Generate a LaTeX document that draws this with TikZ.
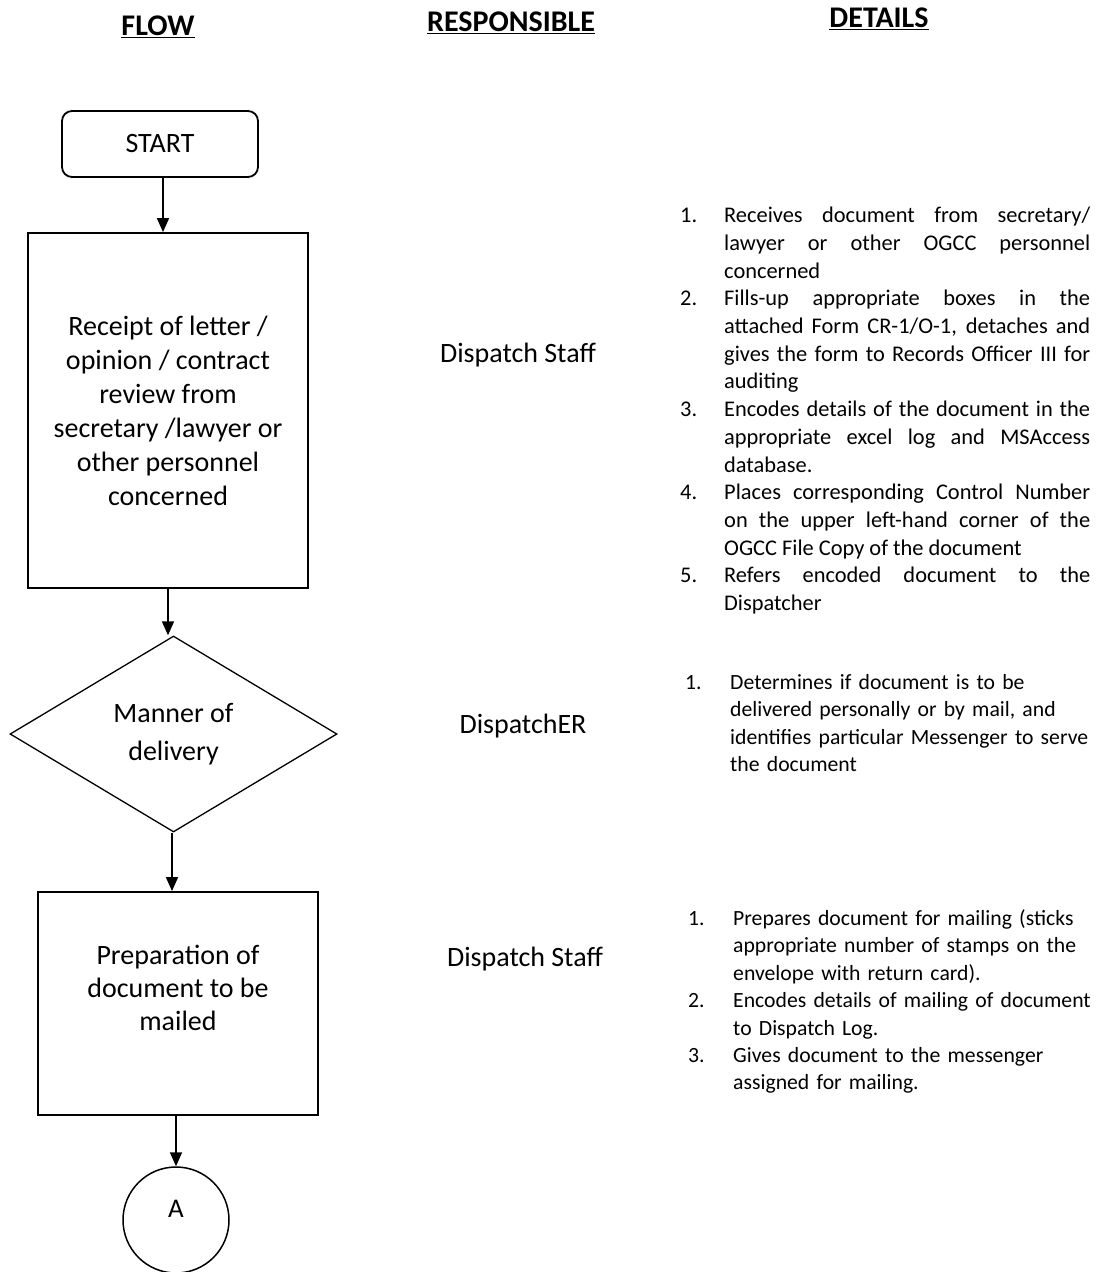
\documentclass[tikz,border=0pt]{standalone}
\usepackage{fontspec}
\setmainfont{Carlito}
\usetikzlibrary{shapes.geometric,arrows.meta}
\newcommand\ditem[3]{\par\spaceskip=0.226em plus 0.3em minus 0.12em\relax\noindent\hangindent=#1\hangafter=1\makebox[#1][l]{#2}#3\par}
\newcommand\ritem[3]{\par\rightskip=0pt plus 1fil\relax\noindent\hangindent=#1\hangafter=1\makebox[#1][l]{#2}#3\par}
\begin{document}
\begin{tikzpicture}[x=1pt,y=-1pt,
  box/.style={draw,line width=1.8pt,inner sep=0pt,align=center,font=\fontsize{28}{34}\selectfont},
  arr/.style={line width=1.6pt,-{Triangle[length=14pt,width=12pt]}},
  hdr/.style={font=\fontsize{30}{34}\selectfont\bfseries},
  resp/.style={font=\fontsize{28}{32}\selectfont},
  det/.style={anchor=base west,inner sep=0pt,font=\fontsize{22.4}{27.7}\selectfont},
  rdet/.style={anchor=base west,inner sep=0pt,font=\fontsize{21.7}{27.4}\selectfont}
]
\useasboundingbox[fill=white] (0,0) rectangle (1106,1272);

% headers
\node[hdr] (hflow) at (158,27) {\underline{FLOW}};
\node[hdr] (hresp) at (511,23) {\underline{RESPONSIBLE}};
\node[hdr] (hdet) at (879,19) {\underline{DETAILS}};

% flow
\node[box,rounded corners=10pt,minimum width=196pt,minimum height=66pt] (start) at (160,144) {START};
\node[box,minimum width=280pt,minimum height=355pt] (box1) at (168,410.5)
  {Receipt of letter /\\opinion / contract\\review from\\secretary /lawyer or\\other personnel\\concerned};
\node[box,shape=diamond,line width=1.3pt,aspect=1.67,minimum width=327pt,minimum height=196pt,font=\fontsize{28}{38}\selectfont] (dia) at (173.5,734)
  {Manner of\\delivery};
\node[box,minimum width=280pt,minimum height=223pt] (box2) at (178,1003.5) {};
\node[align=center,inner sep=0pt,font=\fontsize{28}{33}\selectfont] (box2t) at (178,988)
  {Preparation of\\document to be\\mailed};
\node[draw,circle,line width=1.5pt,minimum size=106pt,inner sep=0pt,text depth=22pt,font=\fontsize{27}{30}\selectfont] (circ) at (176,1220) {A};

\draw[arr] (start.south -| 163,0) -- (box1.north -| 163,0);
\draw[arr] (box1.south) -- (box1.south |- dia.north);
\draw[arr] (dia.south -| 172,0) -- (box2.north -| 172,0);
\draw[arr] (box2.south -| circ.north) -- (circ.north);

% responsible
\node[resp] (r1) at (518,355) {Dispatch Staff};
\node[resp] (r2) at (523,726) {DispatchER};
\node[resp] (r3) at (525,959) {Dispatch Staff};

% details
\node[det,text width=410pt,align=justify] (d1) at (680,195) {%
\ditem{44pt}{1.}{Receives document from secretary/\linebreak lawyer or other OGCC personnel\linebreak concerned}%
\ditem{44pt}{2.}{Fills-up appropriate boxes in the\linebreak attached Form CR-1/O-1, detaches and\linebreak gives the form to Records Officer III for\linebreak auditing}%
\ditem{44pt}{3.}{Encodes details of the document in the\linebreak appropriate excel log and MSAccess\linebreak database.}%
\ditem{44pt}{4.}{Places corresponding Control Number\linebreak on the upper left-hand corner of the\linebreak OGCC File Copy of the document}%
\ditem{44pt}{5.}{Refers encoded document to the\linebreak Dispatcher}};

\node[rdet,text width=421pt,align=left] (d2) at (685,662) {%
\ritem{45pt}{1.}{Determines if document is to be\linebreak delivered personally or by mail, and\linebreak identifies particular Messenger to serve\linebreak the document}};

\node[rdet,text width=418pt,align=left] (d3) at (688,898) {%
\ritem{45pt}{1.}{Prepares document for mailing (sticks\linebreak appropriate number of stamps on the\linebreak envelope with return card).}%
\ritem{45pt}{2.}{Encodes details of mailing of document\linebreak to Dispatch Log.}%
\ritem{45pt}{3.}{Gives document to the messenger\linebreak assigned for mailing.}};
\end{tikzpicture}
\end{document}
